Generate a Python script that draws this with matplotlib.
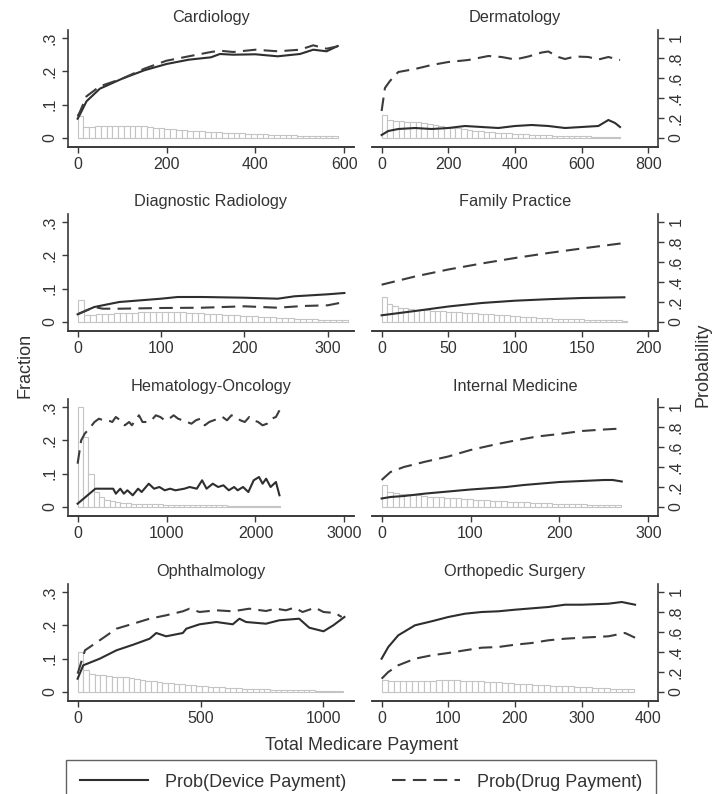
import numpy as np
import matplotlib
matplotlib.use("Agg")
import matplotlib.pyplot as plt
from matplotlib.lines import Line2D

plt.rcParams['font.family'] = ['Liberation Sans', 'DejaVu Sans']

# histogram fractions (left axis) and bin widths
cardio_bin = 13
cardio_hist = [0.065, 0.033, 0.034, 0.035, 0.036, 0.036, 0.037, 0.037, 0.036, 0.036, 0.035, 0.035,
               0.033, 0.031, 0.030, 0.028, 0.027, 0.025, 0.024, 0.022, 0.021, 0.020, 0.019, 0.018,
               0.017, 0.016, 0.015, 0.015, 0.014, 0.013, 0.013, 0.012, 0.011, 0.010, 0.010, 0.009,
               0.008, 0.008, 0.007, 0.007, 0.006, 0.006, 0.005, 0.005, 0.005]
derm_bin = 17
derm_hist = [0.068, 0.053, 0.051, 0.050, 0.049, 0.048, 0.047, 0.045, 0.043, 0.040, 0.036, 0.033,
             0.031, 0.029, 0.027, 0.025, 0.022, 0.020, 0.019, 0.017, 0.016, 0.015, 0.014, 0.013,
             0.012, 0.011, 0.010, 0.009, 0.009, 0.008, 0.007, 0.007, 0.006, 0.006, 0.005, 0.005,
             0.005, 0.004, 0.004, 0.004, 0.003, 0.003]
radio_bin = 7.2
radio_hist = [0.065, 0.020, 0.022, 0.023, 0.024, 0.025, 0.026, 0.027, 0.028, 0.028, 0.029, 0.029,
              0.030, 0.030, 0.030, 0.030, 0.029, 0.029, 0.028, 0.027, 0.026, 0.025, 0.024, 0.023,
              0.022, 0.021, 0.020, 0.019, 0.018, 0.017, 0.016, 0.015, 0.014, 0.013, 0.012, 0.011,
              0.010, 0.009, 0.009, 0.008, 0.007, 0.007, 0.006, 0.006, 0.005]
family_bin = 4
family_hist = [0.075, 0.053, 0.047, 0.043, 0.041, 0.039, 0.037, 0.036, 0.035, 0.034, 0.033, 0.032,
               0.031, 0.030, 0.029, 0.028, 0.027, 0.026, 0.025, 0.024, 0.023, 0.022, 0.021, 0.020,
               0.019, 0.017, 0.016, 0.015, 0.014, 0.013, 0.012, 0.011, 0.010, 0.010, 0.009, 0.009,
               0.008, 0.008, 0.007, 0.007, 0.006, 0.006, 0.005, 0.005, 0.005, 0.004]
hemonc_bin = 60
hemonc_hist = [0.300, 0.210, 0.100, 0.045, 0.030, 0.022, 0.017, 0.014, 0.012, 0.011, 0.010, 0.009,
               0.009, 0.008, 0.008, 0.008, 0.007, 0.007, 0.007, 0.006, 0.006, 0.006, 0.006, 0.005,
               0.005, 0.005, 0.005, 0.005, 0.004, 0.004, 0.004, 0.004, 0.004, 0.004, 0.003, 0.003,
               0.003, 0.003]
intmed_bin = 6.4
intmed_hist = [0.066, 0.045, 0.042, 0.040, 0.038, 0.037, 0.035, 0.034, 0.031, 0.030, 0.029, 0.028,
               0.027, 0.026, 0.025, 0.023, 0.022, 0.021, 0.020, 0.019, 0.018, 0.017, 0.016, 0.015,
               0.015, 0.014, 0.013, 0.012, 0.012, 0.011, 0.010, 0.010, 0.009, 0.009, 0.008, 0.008,
               0.007, 0.007, 0.006, 0.006, 0.006, 0.005]
ophth_bin = 23
ophth_hist = [0.120, 0.065, 0.055, 0.050, 0.050, 0.048, 0.046, 0.045, 0.046, 0.043, 0.040, 0.037,
              0.034, 0.032, 0.030, 0.028, 0.027, 0.025, 0.024, 0.022, 0.020, 0.019, 0.017, 0.016,
              0.015, 0.014, 0.013, 0.012, 0.011, 0.010, 0.009, 0.009, 0.008, 0.008, 0.007, 0.007,
              0.006, 0.006, 0.006, 0.005, 0.005, 0.005, 0.004, 0.004, 0.004, 0.004, 0.003]
ortho_bin = 9
ortho_hist = [0.035, 0.033, 0.033, 0.033, 0.033, 0.034, 0.034, 0.034, 0.034, 0.035, 0.035, 0.035,
              0.035, 0.034, 0.034, 0.033, 0.032, 0.031, 0.030, 0.029, 0.028, 0.027, 0.025, 0.024,
              0.023, 0.022, 0.021, 0.020, 0.019, 0.018, 0.018, 0.017, 0.016, 0.015, 0.014, 0.013,
              0.012, 0.011, 0.010, 0.009, 0.009, 0.008]

# probability curves (right axis)
cardio_x = [0, 5, 20, 50, 100, 150, 200, 250, 300, 320, 350, 400, 450, 500, 530, 560, 585]
cardio_dev = [0.193, 0.233, 0.367, 0.493, 0.593, 0.677, 0.74, 0.783, 0.807, 0.84, 0.833, 0.837,
              0.817, 0.84, 0.883, 0.867, 0.92]
cardio_drug = [0.217, 0.26, 0.417, 0.517, 0.593, 0.693, 0.773, 0.817, 0.86, 0.873, 0.86, 0.883,
               0.867, 0.883, 0.927, 0.893, 0.917]

derm_dev_x = [0, 20, 50, 100, 150, 200, 250, 300, 350, 400, 450, 500, 550, 600, 650, 680, 700, 715]
derm_dev = [0.03, 0.07, 0.09, 0.10, 0.09, 0.10, 0.12, 0.11, 0.10, 0.12, 0.13, 0.12, 0.10, 0.11,
            0.12, 0.18, 0.15, 0.11]
derm_drug_x = [0, 10, 25, 50, 100, 150, 200, 260, 320, 360, 400, 440, 480, 500, 530, 550, 580,
               620, 650, 680, 715]
derm_drug = [0.27, 0.50, 0.57, 0.66, 0.69, 0.73, 0.76, 0.78, 0.82, 0.81, 0.785, 0.815, 0.855,
             0.865, 0.81, 0.79, 0.815, 0.81, 0.785, 0.81, 0.78]

radio_dev_x = [0, 20, 50, 100, 120, 150, 200, 240, 260, 300, 320]
radio_dev = [0.077, 0.15, 0.20, 0.233, 0.25, 0.25, 0.243, 0.233, 0.257, 0.277, 0.29]
radio_drug_x = [0, 20, 30, 50, 100, 150, 200, 240, 270, 300, 320]
radio_drug = [0.077, 0.15, 0.133, 0.133, 0.14, 0.143, 0.157, 0.143, 0.16, 0.167, 0.20]

family_x = [0, 25, 50, 75, 100, 125, 150, 182]
family_dev = [0.067, 0.11, 0.155, 0.19, 0.213, 0.228, 0.24, 0.247]
family_drug = [0.373, 0.455, 0.525, 0.585, 0.64, 0.69, 0.735, 0.79]

hemonc_dev_x = [0, 200, 400, 430, 480, 520, 560, 620, 680, 720, 800, 860, 920, 980, 1040, 1100,
                1200, 1260, 1340, 1400, 1450, 1520, 1580, 1640, 1700, 1760, 1800, 1860, 1920,
                1980, 2040, 2080, 2120, 2170, 2230, 2270]
hemonc_dev = [0.033, 0.183, 0.183, 0.133, 0.183, 0.133, 0.167, 0.117, 0.183, 0.15, 0.233, 0.183,
              0.2, 0.167, 0.183, 0.167, 0.183, 0.2, 0.183, 0.267, 0.183, 0.233, 0.2, 0.217, 0.167,
              0.2, 0.167, 0.2, 0.15, 0.267, 0.3, 0.233, 0.283, 0.2, 0.25, 0.117]
hemonc_drug_x = [0, 40, 80, 130, 190, 240, 290, 340, 390, 430, 480, 530, 580, 610, 650, 690, 730,
                 780, 830, 880, 930, 980, 1030, 1080, 1130, 1180, 1230, 1280, 1330, 1380, 1430,
                 1480, 1530, 1580, 1630, 1680, 1730, 1780, 1830, 1880, 1930, 1980, 2030, 2080,
                 2130, 2180, 2230, 2270]
hemonc_drug = [0.433, 0.667, 0.733, 0.783, 0.85, 0.883, 0.867, 0.867, 0.85, 0.9, 0.867, 0.817,
               0.85, 0.817, 0.867, 0.917, 0.85, 0.85, 0.867, 0.917, 0.9, 0.867, 0.883, 0.917,
               0.883, 0.867, 0.85, 0.833, 0.867, 0.883, 0.817, 0.85, 0.867, 0.883, 0.9, 0.867,
               0.917, 0.9, 0.867, 0.85, 0.9, 0.867, 0.85, 0.817, 0.833, 0.883, 0.9, 0.967]

intmed_dev_x = [0, 10, 25, 50, 100, 140, 160, 200, 250, 260, 270]
intmed_dev = [0.085, 0.10, 0.11, 0.135, 0.175, 0.20, 0.22, 0.25, 0.27, 0.27, 0.255]
intmed_drug_x = [0, 10, 25, 50, 75, 100, 125, 150, 175, 200, 225, 250, 270]
intmed_drug = [0.27, 0.35, 0.40, 0.455, 0.505, 0.57, 0.62, 0.665, 0.705, 0.73, 0.76, 0.775, 0.785]

ophth_dev_x = [0, 23, 90, 158, 226, 293, 320, 360, 428, 442, 496, 564, 631, 658, 685, 766, 820,
               901, 942, 1000, 1040, 1085]
ophth_dev = [0.133, 0.267, 0.333, 0.417, 0.473, 0.533, 0.59, 0.557, 0.59, 0.633, 0.677, 0.70,
             0.677, 0.733, 0.70, 0.683, 0.717, 0.733, 0.643, 0.607, 0.667, 0.75]
ophth_drug_x = [0, 30, 90, 158, 226, 293, 360, 428, 455, 496, 564, 631, 698, 766, 807, 847, 881,
                915, 966, 1000, 1047, 1074]
ophth_drug = [0.183, 0.417, 0.517, 0.633, 0.683, 0.733, 0.767, 0.807, 0.833, 0.80, 0.817, 0.807,
              0.833, 0.81, 0.833, 0.817, 0.843, 0.80, 0.843, 0.80, 0.79, 0.75]

ortho_dev_x = [0, 10, 25, 50, 75, 100, 125, 150, 175, 200, 250, 275, 300, 340, 360, 380]
ortho_dev = [0.333, 0.45, 0.567, 0.667, 0.707, 0.75, 0.783, 0.80, 0.807, 0.823, 0.85, 0.873,
             0.873, 0.883, 0.90, 0.873]
ortho_drug_x = [0, 10, 25, 50, 75, 100, 125, 150, 175, 200, 225, 250, 275, 300, 340, 365, 380]
ortho_drug = [0.133, 0.20, 0.267, 0.333, 0.367, 0.39, 0.417, 0.443, 0.45, 0.473, 0.49, 0.517,
              0.533, 0.543, 0.557, 0.59, 0.543]

titles = ["Cardiology", "Dermatology", "Diagnostic Radiology", "Family Practice",
          "Hematology-Oncology", "Internal Medicine", "Ophthalmology", "Orthopedic Surgery"]
xticks = [[0, 200, 400, 600], [0, 200, 400, 600, 800], [0, 100, 200, 300],
          [0, 50, 100, 150, 200], [0, 1000, 2000, 3000], [0, 100, 200, 300],
          [0, 500, 1000], [0, 100, 200, 300, 400]]
# x-axis range end (largest tick or data end, whichever is larger)
xends = [600, 800, 320, 200, 3000, 300, 1085, 400]

panels = [
    (cardio_bin, cardio_hist, cardio_x, cardio_dev, cardio_x, cardio_drug),
    (derm_bin, derm_hist, derm_dev_x, derm_dev, derm_drug_x, derm_drug),
    (radio_bin, radio_hist, radio_dev_x, radio_dev, radio_drug_x, radio_drug),
    (family_bin, family_hist, family_x, family_dev, family_x, family_drug),
    (hemonc_bin, hemonc_hist, hemonc_dev_x, hemonc_dev, hemonc_drug_x, hemonc_drug),
    (intmed_bin, intmed_hist, intmed_dev_x, intmed_dev, intmed_drug_x, intmed_drug),
    (ophth_bin, ophth_hist, ophth_dev_x, ophth_dev, ophth_drug_x, ophth_drug),
    (ortho_bin, ortho_hist, ortho_dev_x, ortho_dev, ortho_drug_x, ortho_drug),
]

W, H = 715, 794
fig = plt.figure(figsize=(W / 100, H / 100), dpi=100)
fig.patch.set_facecolor("white")

AXC = "#3a3a3a"
TXT = "#333333"
row_top = [30, 214, 399, 584]
col_left = [68, 372]
ax_w, ax_h = 286, 117

for i, (bw, hist, dx, dev, gx, drug) in enumerate(panels):
    r, c = divmod(i, 2)
    left = col_left[c] / W
    bottom = 1 - (row_top[r] + ax_h) / H
    ax = fig.add_axes([left, bottom, ax_w / W, ax_h / H])
    ax2 = ax.twinx()

    edges = np.arange(len(hist)) * bw
    ax.bar(edges, hist, width=bw, align='edge', facecolor='white',
           edgecolor='#c4c4c4', linewidth=0.8)
    ax2.plot(dx, dev, color='#2e2e2e', lw=1.5, solid_joinstyle='round')
    ax2.plot(gx, drug, color='#3c3c3c', lw=1.5, linestyle=(0, (6.5, 3.5)))

    R = xends[i]
    ax.set_xlim(-0.036 * R, 1.036 * R)
    ax.set_ylim(-0.027, 0.324)
    ax2.set_ylim(-0.09, 1.08)
    ax.set_xticks(xticks[i])
    ax.set_xticklabels([str(t) for t in xticks[i]])
    ax.set_title(titles[i], fontsize=11.7, color=TXT, pad=6)

    for a in (ax, ax2):
        for s in a.spines.values():
            s.set_visible(False)
        a.spines['bottom'].set_visible(True)
        a.spines['bottom'].set_color(AXC)
        a.spines['bottom'].set_linewidth(1.2)
        a.tick_params(colors=AXC, labelcolor=TXT, labelsize=11.5, length=4, width=1)

    if c == 0:
        ax.spines['left'].set_visible(True)
        ax.spines['left'].set_color(AXC)
        ax.spines['left'].set_linewidth(1.2)
        ax.set_yticks([0, 0.1, 0.2, 0.3])
        ax.set_yticklabels(["0", ".1", ".2", ".3"], rotation=90, va='center')
        ax2.set_yticks([])
    else:
        ax.set_yticks([])
        ax2.spines['right'].set_visible(True)
        ax2.spines['right'].set_color(AXC)
        ax2.spines['right'].set_linewidth(1.2)
        ax2.set_yticks([0, 0.2, 0.4, 0.6, 0.8, 1.0])
        ax2.set_yticklabels(["0", ".2", ".4", ".6", ".8", "1"], rotation=90, va='center')

fig.text(25 / W, 1 - 365 / H, "Fraction", rotation=90, fontsize=13, color=TXT,
         ha='center', va='center')
fig.text(703 / W, 1 - 365 / H, "Probability", rotation=90, fontsize=13, color=TXT,
         ha='center', va='center')
fig.text(362 / W, 1 - 745 / H, "Total Medicare Payment", fontsize=13, color=TXT,
         ha='center', va='center')

handles = [Line2D([], [], color='#2e2e2e', lw=1.5),
           Line2D([], [], color='#3c3c3c', lw=1.5, linestyle=(0, (6.5, 3.5)))]
leg = fig.legend(handles, ["Prob(Device Payment)", "Prob(Drug Payment)"], ncol=2,
                 loc='upper left', bbox_to_anchor=(66 / W, 1 - 760 / H),
                 fontsize=13, frameon=True, fancybox=False, edgecolor=AXC,
                 handlelength=3.8, handletextpad=0.95, columnspacing=2.5,
                 borderpad=0.75, borderaxespad=0, labelcolor=TXT)
leg.get_frame().set_linewidth(1.0)

fig.savefig("out.png", dpi=100, facecolor="white")
